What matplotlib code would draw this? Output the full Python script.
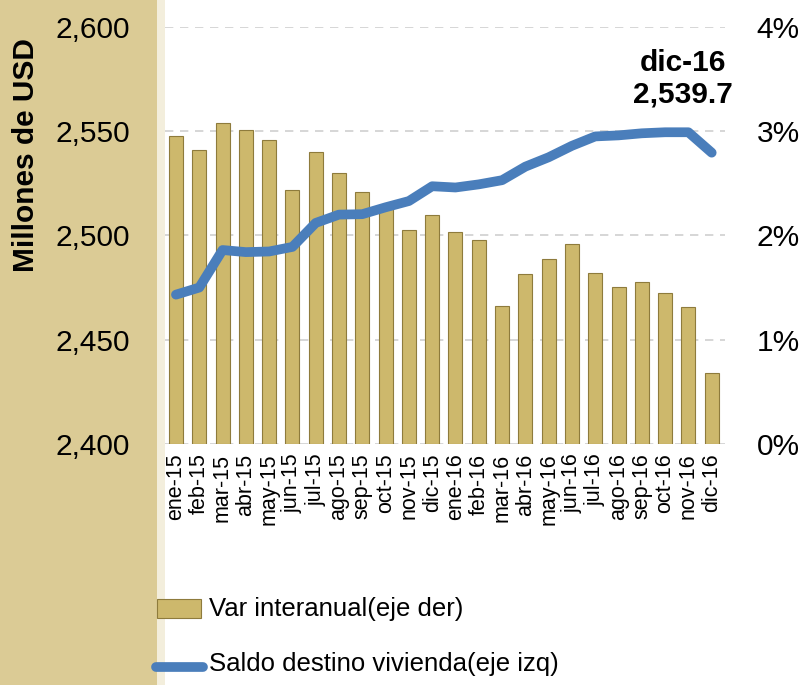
import numpy as np
import matplotlib.pyplot as plt
from matplotlib.patches import Rectangle
from matplotlib.lines import Line2D

meses = ['ene-15', 'feb-15', 'mar-15', 'abr-15', 'may-15', 'jun-15', 'jul-15', 'ago-15',
         'sep-15', 'oct-15', 'nov-15', 'dic-15', 'ene-16', 'feb-16', 'mar-16', 'abr-16',
         'may-16', 'jun-16', 'jul-16', 'ago-16', 'sep-16', 'oct-16', 'nov-16', 'dic-16']
# Var interanual (%), eje derecho
var_interanual = [2.95, 2.82, 3.08, 3.01, 2.92, 2.44, 2.80, 2.60, 2.42, 2.25, 2.05, 2.20,
                  2.03, 1.96, 1.32, 1.63, 1.77, 1.92, 1.64, 1.51, 1.55, 1.45, 1.31, 0.68]
# Saldo destino vivienda (millones USD), eje izquierdo
saldo = [2471.6, 2475.0, 2493.0, 2492.0, 2492.3, 2494.5, 2506.0, 2510.0, 2510.2, 2513.5,
         2516.5, 2523.6, 2523.0, 2524.5, 2526.5, 2533.0, 2537.5, 2543.0, 2547.5, 2548.0,
         2549.0, 2549.5, 2549.5, 2539.7]

yticks_izq = [2400, 2450, 2500, 2550, 2600]
ytick_izq_lbl = ['2,400', '2,450', '2,500', '2,550', '2,600']
yticks_der = [0, 1, 2, 3, 4]
ytick_der_lbl = ['0%', '1%', '2%', '3%', '4%']

plt.rcParams['font.family'] = ['Liberation Sans', 'DejaVu Sans']

gold = '#CDB86C'
gold_edge = '#8E7B3C'
blue = '#4A7EBB'

fig = plt.figure(figsize=(8.05, 6.85), dpi=100)
fig.patch.set_facecolor('white')
# franja izquierda
fig.patches.append(Rectangle((0, 0), 157/805, 1, transform=fig.transFigure,
                             facecolor='#DBCB95', edgecolor='none', zorder=-10))
fig.patches.append(Rectangle((157/805, 0), 8/805, 1, transform=fig.transFigure,
                             facecolor='#F3EEDC', edgecolor='none', zorder=-10))

ax = fig.add_axes([0.205, 0.352, 0.695, 0.6086])
ax2 = ax.twinx()
ax.set_zorder(ax2.get_zorder() + 1)
ax.patch.set_visible(False)

x = np.arange(len(meses))
ax2.bar(x, var_interanual, width=0.6, color=gold, edgecolor=gold_edge, linewidth=0.8)
ax2.set_ylim(0, 4)
ax2.set_yticks(yticks_der)
ax2.set_yticklabels(ytick_der_lbl, fontsize=21.5)

ax.plot(x, saldo, color=blue, linewidth=7, solid_capstyle='round', solid_joinstyle='round')
ax.set_ylim(2400, 2600)
ax.set_yticks(yticks_izq)
ax.set_yticklabels(ytick_izq_lbl, fontsize=21.5)
ax.set_xlim(-0.47, 23.55)
ax.set_xticks(x)
ax.set_xticklabels(meses, rotation=90, fontsize=15.5)

for a in (ax, ax2):
    for s in a.spines.values():
        s.set_visible(False)
    a.tick_params(length=0)
ax.tick_params(axis='y', pad=25)
ax2.tick_params(axis='y', pad=23)
ax.tick_params(axis='x', pad=7)
ax2.grid(axis='y', color='#D0D0D0', linestyle=(0, (5, 4)), linewidth=1.2)
ax2.set_axisbelow(True)

ax.annotate('dic-16\n' + f'{saldo[-1]:,.1f}', xy=(x[-1], saldo[-1]), xytext=(-21, 32),
            textcoords='offset points', xycoords='data', ha='center', va='bottom',
            fontsize=21.5, fontweight='bold', linespacing=1.15,
            annotation_clip=False)

fig.text(26/805, 1 - 155/685, 'Millones de USD', rotation=90, ha='center', va='center',
         fontsize=21.5, fontweight='bold')

# leyenda
fig.patches.append(Rectangle((157/805, 1 - 618/685), 44/805, 19/685, transform=fig.transFigure,
                             facecolor=gold, edgecolor=gold_edge, linewidth=0.8))
fig.text(209/805, 1 - 609/685, 'Var interanual(eje der)', fontsize=18.5, va='center')
fig.lines.append(Line2D([156/805, 203/805], [1 - 667/685, 1 - 667/685], transform=fig.transFigure,
                        color=blue, linewidth=7, solid_capstyle='round'))
fig.text(209/805, 1 - 664/685, 'Saldo destino vivienda(eje izq)', fontsize=18.5, va='center')

fig.savefig('out.png', dpi=100)
